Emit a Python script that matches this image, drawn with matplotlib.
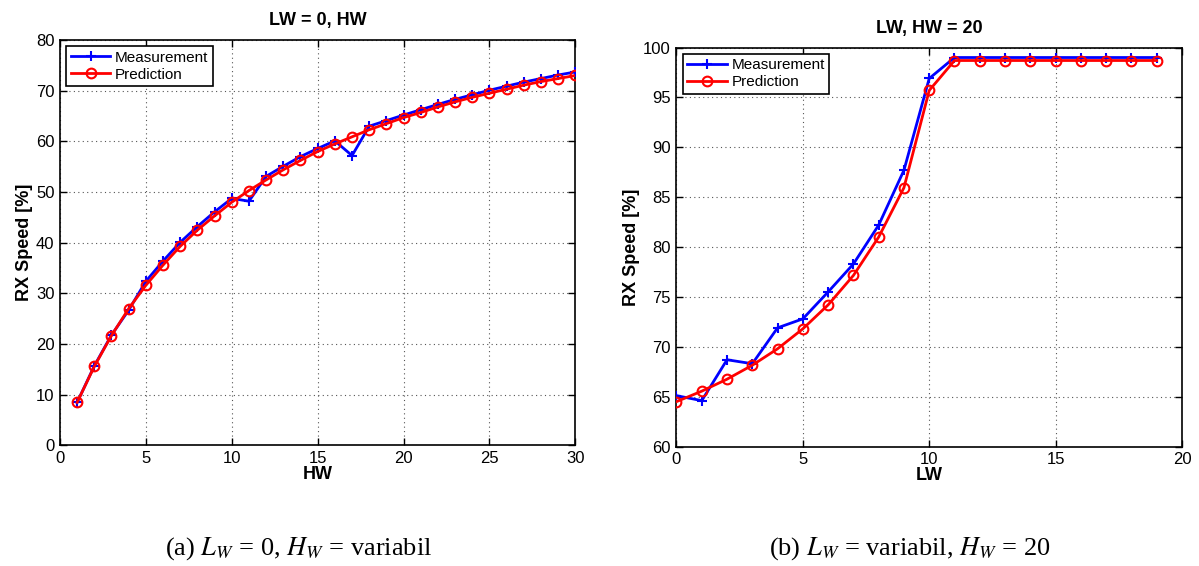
import matplotlib
matplotlib.use("Agg")
import matplotlib.pyplot as plt
import numpy as np

plt.rcParams['font.family'] = ['Liberation Sans', 'DejaVu Sans']
plt.rcParams['mathtext.fontset'] = 'stix'

# Left panel: LW = 0, HW variable
hw = list(range(1, 31))
meas_a = [8.5, 15.7, 21.8, 26.7, 32.4, 36.4, 40.1, 43.2, 46.1, 48.75,
          48.2, 53.1, 55.1, 57.0, 58.6, 60.1, 57.2, 63.0, 64.1, 65.2,
          66.25, 67.3, 68.3, 69.2, 70.1, 70.9, 71.7, 72.4, 73.1, 73.7]
pred_a = [8.5, 15.6, 21.7, 27.0, 31.6, 35.6, 39.3, 42.5, 45.3, 48.0,
          50.3, 52.4, 54.4, 56.25, 58.0, 59.5, 60.9, 62.3, 63.5, 64.7,
          65.7, 66.8, 67.8, 68.7, 69.5, 70.3, 71.1, 71.8, 72.4, 73.0]

# Right panel: LW variable, HW = 20
lw = list(range(0, 20))
meas_b = [65.1, 64.6, 68.7, 68.3, 71.9, 72.8, 75.5, 78.3, 82.2, 87.7,
          96.9, 99.0, 99.0, 99.0, 99.0, 99.0, 99.0, 99.0, 99.0, 99.0]
pred_b = [64.5, 65.55, 66.75, 68.15, 69.8, 71.8, 74.2, 77.15, 81.0, 85.95,
          95.7, 98.7, 98.7, 98.7, 98.7, 98.7, 98.7, 98.7, 98.7, 98.7]

xticks_a = [0, 5, 10, 15, 20, 25, 30]
yticks_a = [0, 10, 20, 30, 40, 50, 60, 70, 80]
xticks_b = [0, 5, 10, 15, 20]
yticks_b = [60, 65, 70, 75, 80, 85, 90, 95, 100]

fig = plt.figure(figsize=(11.99, 5.66), dpi=100)
ax1 = fig.add_axes([0.0500, 0.2129, 0.4299, 0.7164])
ax2 = fig.add_axes([0.5642, 0.2111, 0.4216, 0.7049])

def style(ax, x, m, p, xt, yt, xlim, ylim, title, xlabel):
    ax.plot(x, m, color='#0000ff', lw=2, marker='+', ms=7, mew=1.5,
            label='Measurement', zorder=3)
    ax.plot(x, p, color='#ff0000', lw=2, marker='o', ms=7, mew=1.5,
            mfc='none', label='Prediction', zorder=4)
    ax.set_xlim(*xlim)
    ax.set_ylim(*ylim)
    ax.set_xticks(xt)
    ax.set_yticks(yt)
    ax.grid(True, linestyle=(0, (1, 3)), color='#555555', lw=0.8)
    ax.tick_params(direction='in', top=True, right=True, labelsize=12,
                   length=5, width=1, pad=4)
    for s in ax.spines.values():
        s.set_linewidth(1.2)
    ax.set_title(title, fontsize=13, fontweight='bold', pad=10.5)
    ax.set_xlabel(xlabel, fontsize=13, fontweight='bold', labelpad=0)
    ax.set_ylabel('RX Speed [%]', fontsize=13, fontweight='bold', labelpad=2)
    leg = ax.legend(loc='upper left', fontsize=11, fancybox=False,
                    edgecolor='black', framealpha=1, borderpad=0.3,
                    handlelength=2.6, handletextpad=0.3, labelspacing=0.2,
                    borderaxespad=0.4)
    leg.get_frame().set_linewidth(1.2)

style(ax1, hw, meas_a, pred_a, xticks_a, yticks_a, (0, 30), (0, 80),
      'LW = 0, HW', 'HW')
style(ax2, lw, meas_b, pred_b, xticks_b, yticks_b, (0, 20), (60, 100),
      'LW, HW = 20', 'LW')

fig.text(0.249, 0.0194, r'(a) $L_W$ = 0, $H_W$ = variabil', ha='center',
         va='baseline', fontsize=19, family='Liberation Serif')
fig.text(0.759, 0.0194, r'(b) $L_W$ = variabil, $H_W$ = 20', ha='center',
         va='baseline', fontsize=19, family='Liberation Serif')

fig.savefig('out.png', dpi=100)
